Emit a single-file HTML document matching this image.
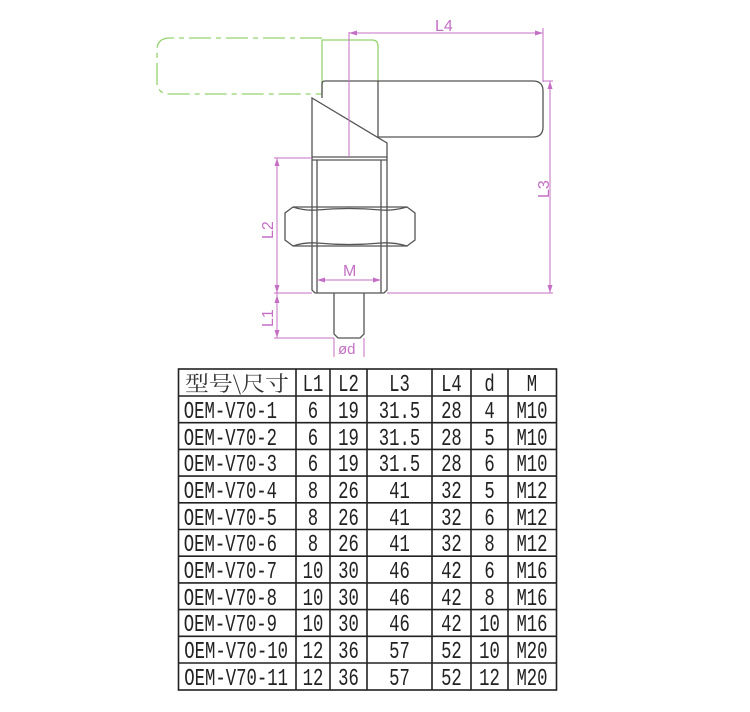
<!DOCTYPE html>
<html><head><meta charset="utf-8"><style>
html,body{margin:0;padding:0;background:#fff;width:750px;height:712px;overflow:hidden}
svg{display:block}
</style></head><body>
<svg width="750" height="712" viewBox="0 0 750 712" xmlns="http://www.w3.org/2000/svg">
<g fill="none" stroke="#94d36e" stroke-width="1.3">
  <path d="M322 38 H170 Q157 38 157 50 V82 Q157 94 170 94 H322" stroke-dasharray="22,5,5,5"/>
  <path d="M322 94 V40 H372 Q378 40 378 46 V82"/>
</g>
<g fill="none" stroke="#555" stroke-width="1.3">
  <path d="M322 98 V84 Q322 81 325 81 H533 Q543 81 543 91 V127 Q543 137 533 137 H378 V81"/>
  <path d="M312 98 V157 H387 V143 Z"/>
  <path d="M312 157 V290 L315 293 H384 L387 290 V157"/>
  <path d="M312 160 H387"/>
  <path d="M317 160 V207 M381 160 V207 M317 246 V293 M381 246 V293"/>
  <path d="M293 207 H407 L415 213 V240 L407 246 H293 L285 240 V213 Z"/>
  <path d="M317 207 V246 M381 207 V246"/>
  <path d="M293 207 Q305 211 317 210 Q349 207 381 210 Q393 211 407 207"/>
  <path d="M293 246 Q305 242 317 243 Q349 246 381 243 Q393 242 407 246"/>
  <path d="M334 293 V334 L338 338 H360 L364 334 V293"/>
</g>
<g fill="none" stroke="#c46fc4" stroke-width="1">
  <path d="M349 32 V157"/>
  <path d="M349 33 H543 M543 28 V82"/>
  <path d="M543 81 H553 M387 293 H553 M550 81 V293"/>
  <path d="M274 158 H312 M274 293 H312 M277 158 V338 M274 338 H334"/>
  <path d="M317 280 H381"/>
  <path d="M334 338 V357 M364 338 V357"/>
</g>
<g fill="#c46fc4">
  <path d="M349 33 l8 -2.5 v5z M543 33 l-8 -2.5 v5z"/>
  <path d="M550 81 l-2.5 8 h5z M550 293 l-2.5 -8 h5z"/>
  <path d="M277 158 l-2.5 8 h5z M277 293 l-2.5 -8 h5z M277 295 l-2.5 8 h5z M277 338 l-2.5 -8 h5z"/>
  <path d="M317 280 l8 -2.5 v5z M381 280 l-8 -2.5 v5z"/>
</g>
<g fill="#c46fc4" font-family="Liberation Sans, sans-serif" font-size="16">
  <text x="435" y="31">L4</text>
  <text x="343" y="276">M</text>
  <text x="338" y="354" font-size="15">ød</text>
  <text transform="translate(549,198) rotate(-90)">L3</text>
  <text transform="translate(273,239) rotate(-90)">L2</text>
  <text transform="translate(273,327) rotate(-90)">L1</text>
</g>
<g stroke="#222" stroke-width="1.6" fill="none">
  <rect x="178.5" y="369" width="378" height="321"/>
  <path d="M296 369 V690 M330 369 V690 M367 369 V690 M432 369 V690 M471 369 V690 M508 369 V690"/>
  <path d="M178 396 H557 M178 422.7 H557 M178 449.4 H557 M178 476.1 H557 M178 502.8 H557 M178 529.5 H557 M178 556.2 H557 M178 582.9 H557 M178 609.6 H557 M178 636.3 H557 M178 663 H557"/>
</g>
<text x="237" y="391" fill="#333" font-family="'Noto Serif CJK SC', serif" font-size="21" text-anchor="middle" textLength="104" lengthAdjust="spacingAndGlyphs">型号\尺寸</text>
<g fill="#222" font-family="Liberation Mono, monospace" font-size="24" text-anchor="middle" transform="scale(0.72,1)">
  <text y="391"><tspan x="434.7">L1</tspan><tspan x="484">L2</tspan><tspan x="554.9">L3</tspan><tspan x="627">L4</tspan><tspan x="679.9">d</tspan><tspan x="738.9">M</tspan></text>
  <text y="418"><tspan x="320">OEM-V70-1</tspan><tspan x="434.7">6</tspan><tspan x="484">19</tspan><tspan x="554.9">31.5</tspan><tspan x="627">28</tspan><tspan x="679.9">4</tspan><tspan x="738.9">M10</tspan></text>
  <text y="445"><tspan x="320">OEM-V70-2</tspan><tspan x="434.7">6</tspan><tspan x="484">19</tspan><tspan x="554.9">31.5</tspan><tspan x="627">28</tspan><tspan x="679.9">5</tspan><tspan x="738.9">M10</tspan></text>
  <text y="471"><tspan x="320">OEM-V70-3</tspan><tspan x="434.7">6</tspan><tspan x="484">19</tspan><tspan x="554.9">31.5</tspan><tspan x="627">28</tspan><tspan x="679.9">6</tspan><tspan x="738.9">M10</tspan></text>
  <text y="498"><tspan x="320">OEM-V70-4</tspan><tspan x="434.7">8</tspan><tspan x="484">26</tspan><tspan x="554.9">41</tspan><tspan x="627">32</tspan><tspan x="679.9">5</tspan><tspan x="738.9">M12</tspan></text>
  <text y="525"><tspan x="320">OEM-V70-5</tspan><tspan x="434.7">8</tspan><tspan x="484">26</tspan><tspan x="554.9">41</tspan><tspan x="627">32</tspan><tspan x="679.9">6</tspan><tspan x="738.9">M12</tspan></text>
  <text y="551"><tspan x="320">OEM-V70-6</tspan><tspan x="434.7">8</tspan><tspan x="484">26</tspan><tspan x="554.9">41</tspan><tspan x="627">32</tspan><tspan x="679.9">8</tspan><tspan x="738.9">M12</tspan></text>
  <text y="578"><tspan x="320">OEM-V70-7</tspan><tspan x="434.7">10</tspan><tspan x="484">30</tspan><tspan x="554.9">46</tspan><tspan x="627">42</tspan><tspan x="679.9">6</tspan><tspan x="738.9">M16</tspan></text>
  <text y="605"><tspan x="320">OEM-V70-8</tspan><tspan x="434.7">10</tspan><tspan x="484">30</tspan><tspan x="554.9">46</tspan><tspan x="627">42</tspan><tspan x="679.9">8</tspan><tspan x="738.9">M16</tspan></text>
  <text y="631"><tspan x="320">OEM-V70-9</tspan><tspan x="434.7">10</tspan><tspan x="484">30</tspan><tspan x="554.9">46</tspan><tspan x="627">42</tspan><tspan x="679.9">10</tspan><tspan x="738.9">M16</tspan></text>
  <text y="658"><tspan x="328">OEM-V70-10</tspan><tspan x="434.7">12</tspan><tspan x="484">36</tspan><tspan x="554.9">57</tspan><tspan x="627">52</tspan><tspan x="679.9">10</tspan><tspan x="738.9">M20</tspan></text>
  <text y="685"><tspan x="328">OEM-V70-11</tspan><tspan x="434.7">12</tspan><tspan x="484">36</tspan><tspan x="554.9">57</tspan><tspan x="627">52</tspan><tspan x="679.9">12</tspan><tspan x="738.9">M20</tspan></text>
</g>
</svg>
</body></html>
